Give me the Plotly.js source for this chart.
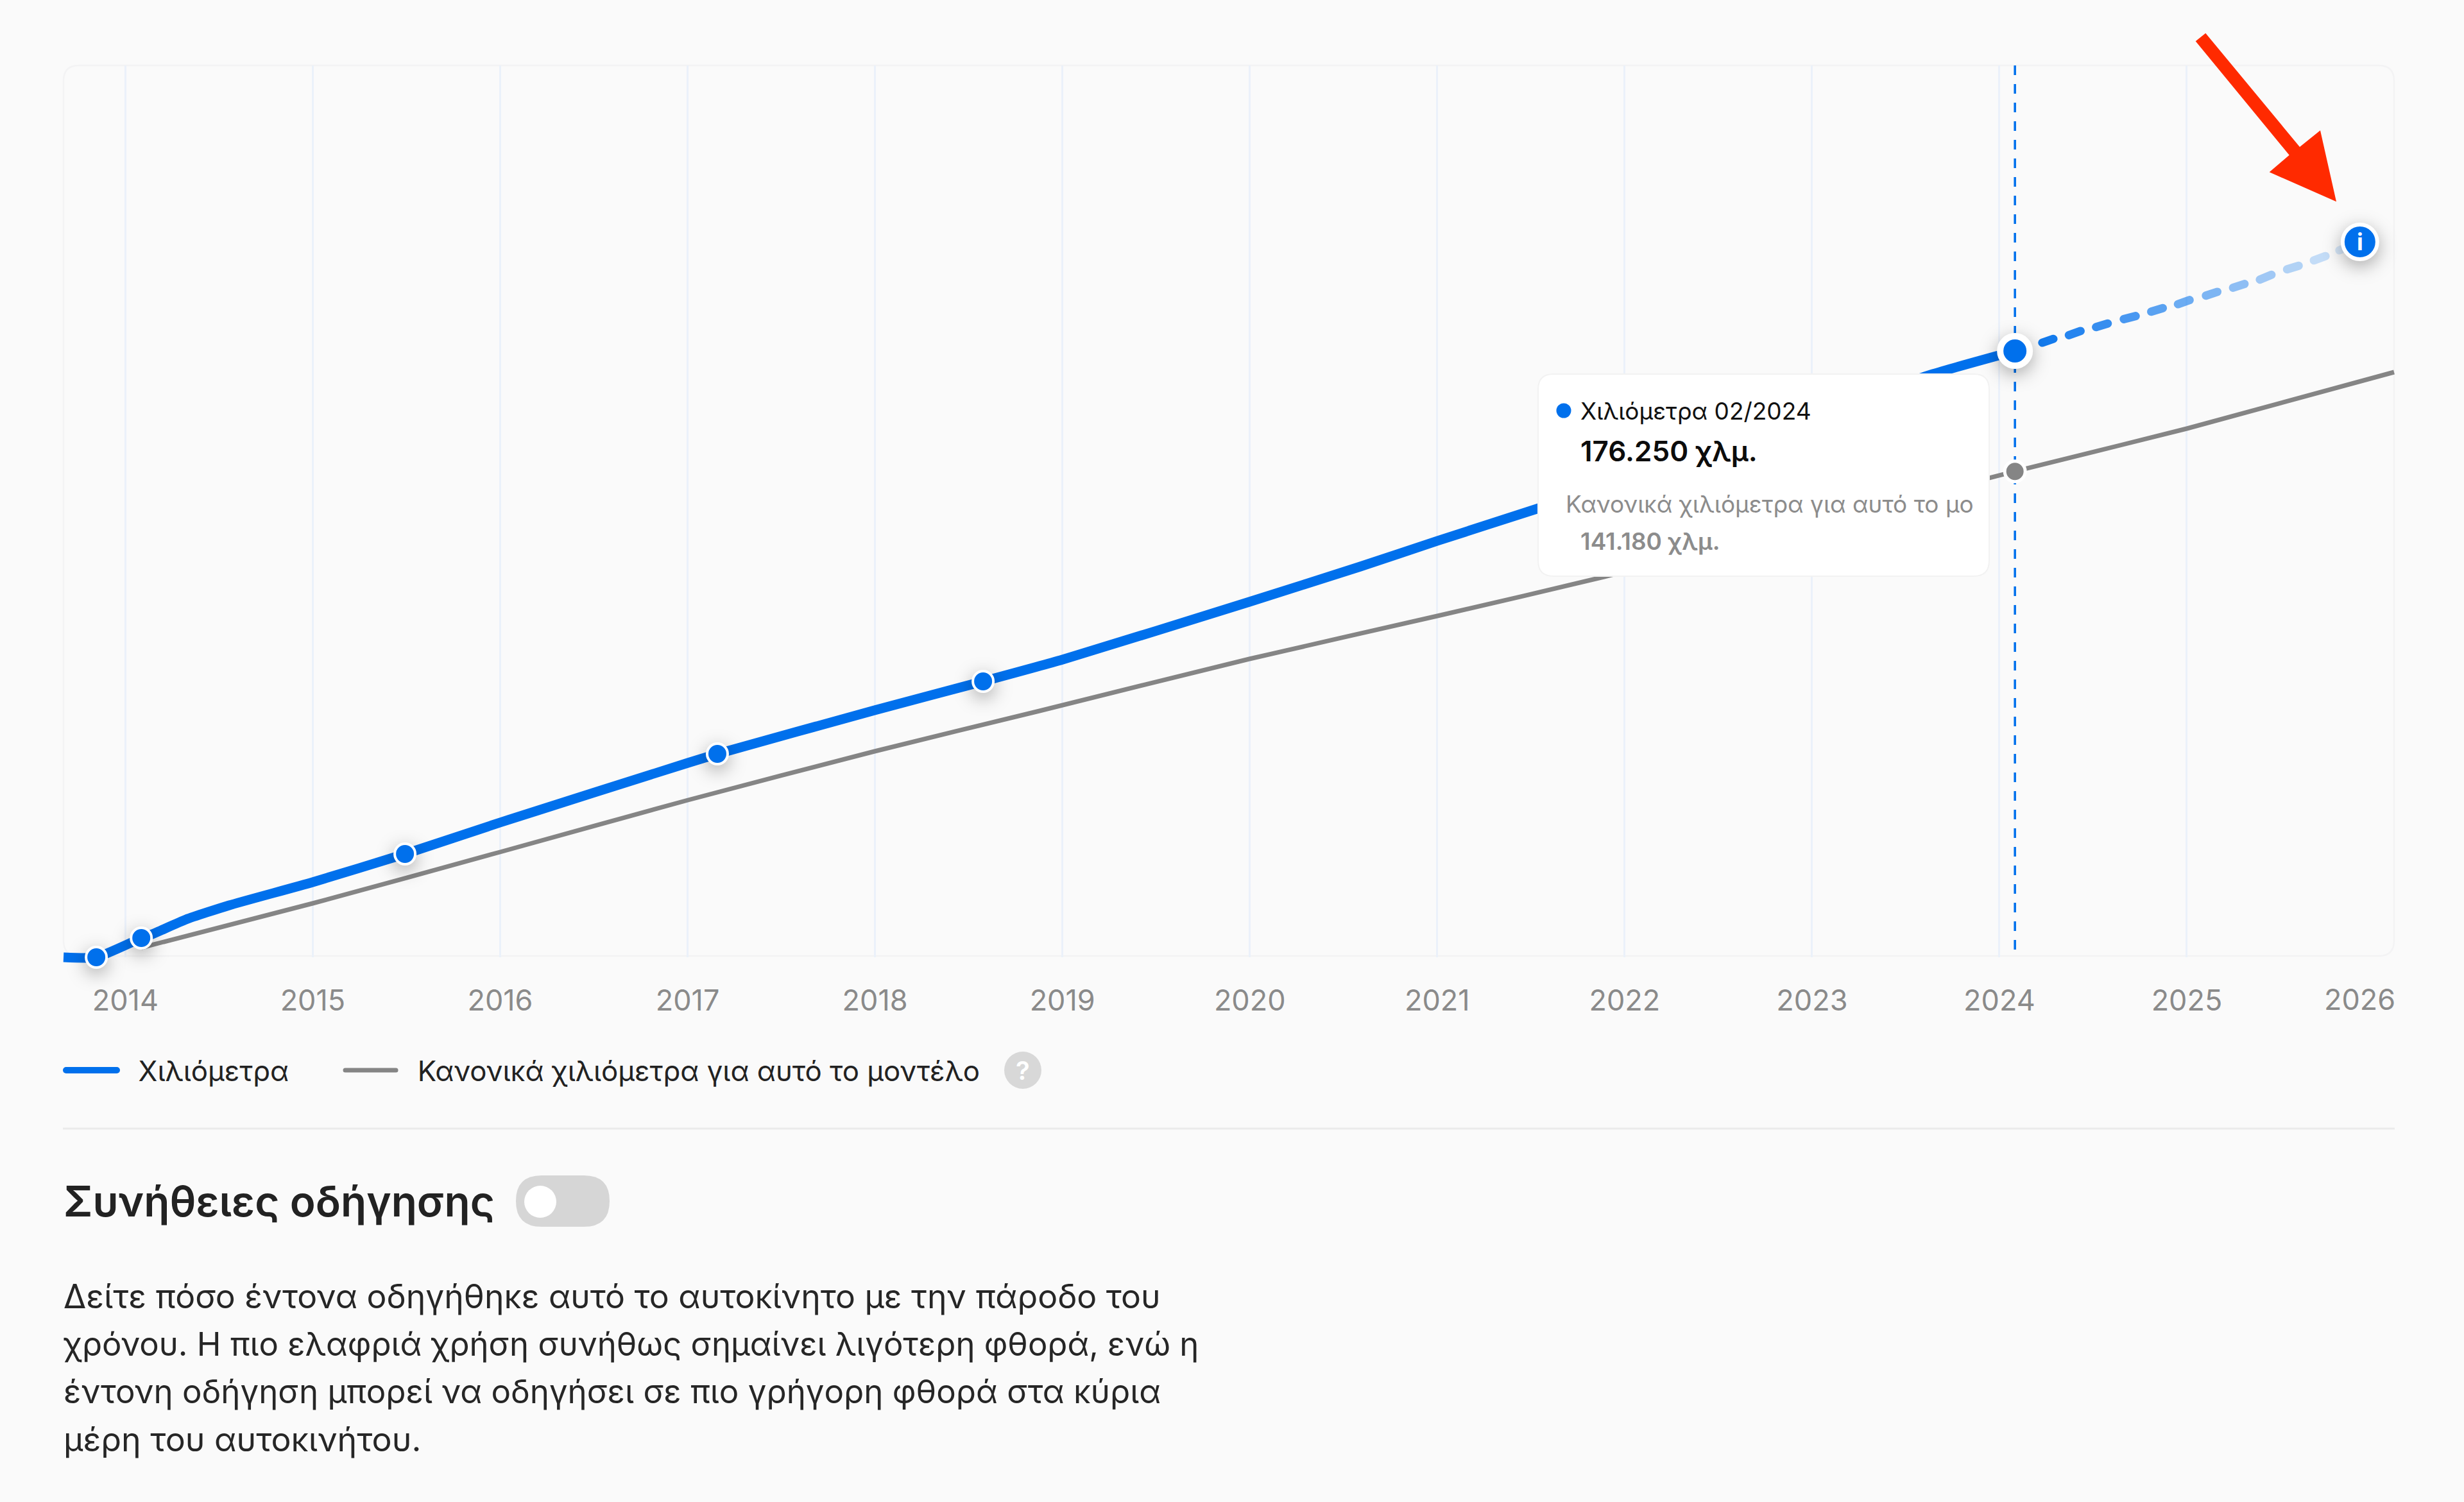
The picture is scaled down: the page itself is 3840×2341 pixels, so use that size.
<!DOCTYPE html>
<html><head><meta charset="utf-8">
<script src="https://cdn.plot.ly/plotly-3.0.1.min.js"></script>
<style>html,body{margin:0;padding:0;background:#fafafa}#c{width:3840px;height:2341px}
.legendlines path{stroke-linecap:round}</style></head><body><div id="c"></div>
<script>
// ---- data ----
const yearTicks=[2014,2015,2016,2017,2018,2019,2020,2021,2022,2023,2024,2025];
const tickLabels=['2014','2015','2016','2017','2018','2019','2020','2021','2022','2023','2024','2025'];
const kmX=[2013.67,2013.845,2014.085,2014.143,2014.324,2014.554,2014.999,2015.492,2015.999,2017.002,2017.159,2017.998,2018.577,2019.001,2019.998,2020.59,2021.001,2021.532,2022.001,2023.001,2023.644,2024.083];
const kmY=[-374,-374,5230,6355,10654,14766,21495,29720,38879,56262,58879,71589,80000,86355,103178,113458,120935,130280,138879,157570,169533,176250];
const normalX=[2014.085,2014.999,2015.999,2017.002,2017.998,2018.878,2019.998,2021.001,2021.891,2024.083,2025.0,2026.106];
const normalY=[2430,15327,30280,45421,59626,71402,86542,99065,110467,141180,153645,170093];
const milestoneX=[2013.845,2014.085,2015.492,2017.159,2018.577];
const milestoneY=[-374,5230,29720,58879,80000];
const currentX=[2024.083], currentKm=[176250], currentNormal=[141180];
const forecastEndX=[2025.924], forecastEndY=[208037];
const dashStartX=[2024.229,2024.371,2024.516,2024.664,2024.81,2024.953,2025.102,2025.247,2025.39,2025.535,2025.678,2025.814];
const dashEndX=[2024.288,2024.433,2024.578,2024.727,2024.872,2025.015,2025.163,2025.308,2025.452,2025.597,2025.74,2025.854];
const dashStartY=[178675,180862,183217,185534,187703,189890,192376,194693,197049,200039,202656,205591];
const dashEndY=[179774,182073,184260,186428,188746,191101,193475,195774,198466,201082,203886,206559];
const dashAlpha=[.92,.85,.78,.71,.64,.57,.5,.43,.36,.29,.22,.15];
const NB='\u00A0',HAIR='\u200A';
const seriesNames=[NB+NB+HAIR+'Χιλιόμετρα'+NB.repeat(6)+HAIR,NB+NB+HAIR+'Κανονικά χιλιόμετρα για αυτό το μοντέλο'];
const bodyLines=['Δείτε πόσο έντονα οδηγήθηκε αυτό το αυτοκίνητο με την πάροδο του','χρόνου. Η πιο ελαφριά χρήση συνήθως σημαίνει λιγότερη φθορά, ενώ η','έντονη οδήγηση μπορεί να οδηγήσει σε πιο γρήγορη φθορά στα κύρια','μέρη του αυτοκινήτου.'];
const BLUE='#0070ec',GRAY='#858585',FONT='Inter, "Noto Sans", sans-serif';
// ---- page geometry ----
const PL=99,PR=3731,PT=102,PB=1492;
const X=x=>(x-PL)/(PR-PL), Y=y=>(PB-y)/(PB-PT);
function rrect(x0,y0,x1,y1,r){const p=(x,y)=>X(x)+' '+Y(y);
 return 'M'+p(x0+r,y0)+' L'+p(x1-r,y0)+' Q'+p(x1,y0)+' '+p(x1,y0+r)+' L'+p(x1,y1-r)+' Q'+p(x1,y1)+' '+p(x1-r,y1)+' L'+p(x0+r,y1)+' Q'+p(x0,y1)+' '+p(x0,y1-r)+' L'+p(x0,y0+r)+' Q'+p(x0,y0)+' '+p(x0+r,y0)+' Z';}
function poly(pts){return 'M'+pts.map(q=>X(q[0])+' '+Y(q[1])).join(' L')+' Z';}
const pshape=(path,fill,line,lw,layer)=>({type:'path',xref:'paper',yref:'paper',path,fillcolor:fill,line:{color:line||'rgba(0,0,0,0)',width:lw||0},layer:layer||'above'});
const circ=(cx,cy,r,fill)=>({type:'circle',xref:'paper',yref:'paper',x0:X(cx-r),x1:X(cx+r),y0:Y(cy+r),y1:Y(cy-r),fillcolor:fill,line:{width:0},layer:'above'});
const txt=(text,x,y,size,color,weight,anchor)=>({text,xref:'paper',yref:'paper',x:X(x),y:Y(y),xanchor:anchor||'left',yanchor:'middle',showarrow:false,borderpad:0,font:{family:FONT,size,color,weight:weight||400}});
// ---- traces ----
const traces=[
 {x:normalX,y:normalY,name:seriesNames[1],mode:'lines',line:{color:GRAY,width:7,shape:'spline',smoothing:0.6},cliponaxis:false,legendrank:2},
 {x:kmX,y:kmY,name:seriesNames[0],mode:'lines',line:{color:BLUE,width:15,shape:'spline',smoothing:0.5},cliponaxis:false,legendrank:1}
];
dashStartX.forEach((s,i)=>traces.push({x:[s,dashEndX[i]],y:[dashStartY[i],dashEndY[i]],mode:'lines',showlegend:false,opacity:dashAlpha[i],line:{color:BLUE,width:13},cliponaxis:false,meta:'dash'}));
traces.push({x:currentX,y:currentNormal,mode:'markers',showlegend:false,cliponaxis:false,marker:{color:GRAY,size:32,line:{color:'#fff',width:5}},meta:'plain'});
traces.push({x:milestoneX,y:milestoneY,mode:'markers',showlegend:false,cliponaxis:false,marker:{color:BLUE,size:32,line:{color:'#fff',width:4}},meta:'shadow'});
traces.push({x:currentX,y:currentKm,mode:'markers',showlegend:false,cliponaxis:false,marker:{color:BLUE,size:46,line:{color:'#fff',width:10}},meta:'shadow'});
traces.push({x:forecastEndX,y:forecastEndY,mode:'markers',showlegend:false,cliponaxis:false,marker:{color:BLUE,size:54,line:{color:'#fff',width:6}},meta:'shadow'});
// ---- layout ----
const shapes=[
 pshape(rrect(PL,PT,PR,1490,24),'rgba(0,0,0,0)','#f3f3f4',2.5,'below'),
 {type:'line',xref:'x',yref:'paper',x0:currentX[0],x1:currentX[0],y0:1,y1:Y(1482),line:{color:BLUE,width:3.5,dash:'15px,14px'},layer:'below'},
 pshape(rrect(2397,583,3100,898,24),'#ffffff','#f2f2f2',2),
 circ(2437,640,11.5,BLUE),
 pshape(poly([[3421.7,64.3],[3437.3,51.7],[3584,229],[3616,203.3],[3641,314.3],[3536.7,268.3],[3567.7,241.7]]),'#ff2a00'),
 circ(1594,1668,29,'#d8d8d8'),
 {type:'line',xref:'paper',yref:'paper',x0:X(98),x1:X(3732),y0:Y(1759),y1:Y(1759),line:{color:'#ebebeb',width:3}},
 pshape(rrect(804,1832,950,1912,40),'#d6d6d6'),
 circ(842,1873,25,'#ffffff')
];
const annotations=[
 txt('2026',3734,1557,45,'#8a8a8a',400,'right'),
 txt('Χιλιόμετρα 02/2024',2461.5,640,37,'#111',400),
 txt('176.250 χλμ.',2461.5,703,44,'#0c0c0c',600),
 txt('Κανονικά χιλιόμετρα για αυτό το μο',2439,785,37,'#8c8c8c',400),
 txt('141.180 χλμ.',2461.5,844,37,'#8c8c8c',600),
 txt('?',1594,1668,40,'#ffffff',600,'center'),
 txt('Συνήθειες οδήγησης',98,1872,65.6,'#222',600),
 {text:'i',xref:'x',yref:'y',x:forecastEndX[0],y:forecastEndY[0],showarrow:false,yanchor:'middle',xanchor:'center',font:{family:FONT,size:36,color:'#fff',weight:700}}
];
const ys=[2020,2094,2168,2243], bodySizes=[51.7,50.8,51,51.9];
bodyLines.forEach((t,i)=>annotations.push(txt(t,98,ys[i],bodySizes[i],'#262626',400)));
const layout={width:3840,height:2341,margin:{l:PL,r:3840-PR,t:PT,b:2341-PB,pad:0},paper_bgcolor:'#fafafa',plot_bgcolor:'rgba(0,0,0,0)',hovermode:false,
 font:{family:FONT},
 xaxis:{type:'linear',range:[2013.67,2026.106],tickmode:'array',tickvals:yearTicks,ticktext:tickLabels,showgrid:true,gridcolor:'#ebf1fa',gridwidth:3,zeroline:false,showline:false,ticks:'outside',ticklen:28,tickcolor:'rgba(0,0,0,0)',tickfont:{family:FONT,size:45,color:'#8a8a8a'}},
 yaxis:{range:[-374,259439],visible:false,showgrid:false,zeroline:false},
 legend:{orientation:'h',x:X(98),xanchor:'left',y:Y(1668),yanchor:'middle',itemwidth:79,font:{family:FONT,size:43.8,color:'#222'},bgcolor:'rgba(0,0,0,0)',traceorder:'normal'},
 shapes,annotations};
Plotly.newPlot('c',traces,layout,{displayModeBar:false,staticPlot:true}).then(gd=>{
 gd.querySelectorAll('.overplot .plot, .overplot .scatterlayer, .overplot .scatterlayer *').forEach(e=>e.removeAttribute('clip-path'));
 gd.querySelectorAll('.scatterlayer .trace').forEach((el,i)=>{const m=gd.data[i]&&gd.data[i].meta;
  if(m==='dash')el.querySelectorAll('.js-line').forEach(p=>p.style.strokeLinecap='round');
  if(m==='shadow')el.querySelectorAll('.points path').forEach(p=>p.style.filter='drop-shadow(0 8px 14px rgba(0,0,0,.32))');});
});
</script></body></html>
